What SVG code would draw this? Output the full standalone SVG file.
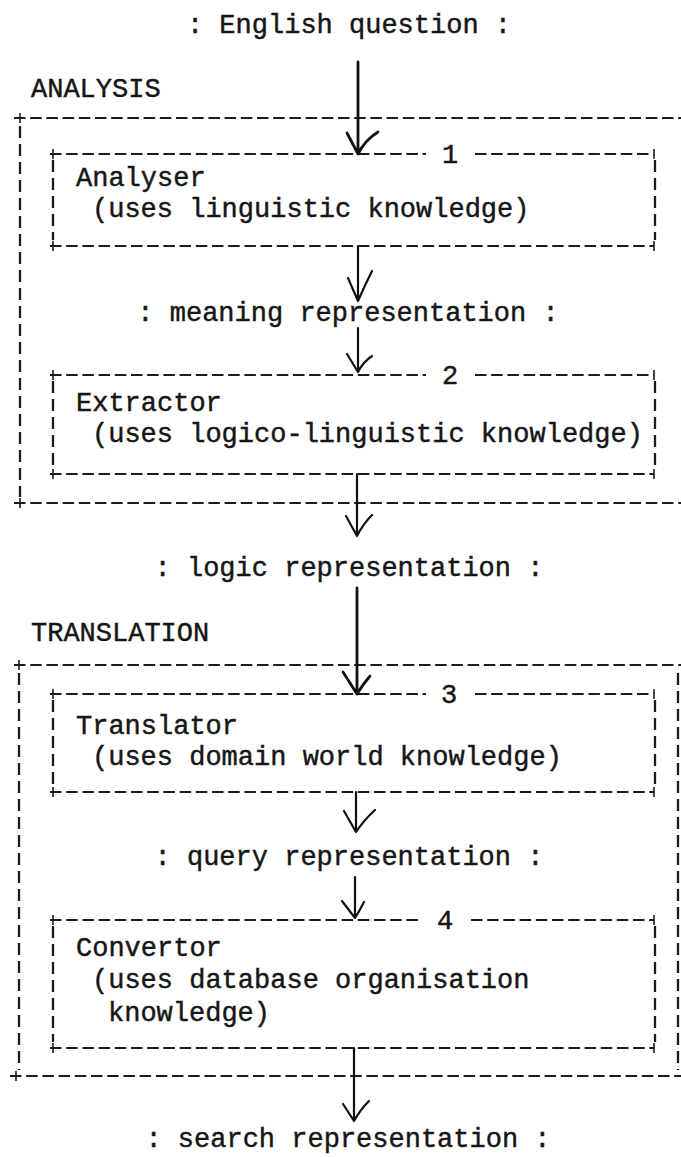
<svg xmlns="http://www.w3.org/2000/svg" width="681" height="1157" viewBox="0 0 681 1157">
  <style>
    text { font-family: "Liberation Mono", "Courier New", monospace; font-size: 27px; fill: #161616; stroke: #161616; stroke-width: 0.45; }
    .mid { text-anchor: middle; }
    .hd { stroke: #1c1c1c; stroke-width: 2.2; stroke-dasharray: 11.5 4.7; fill: none; }
    .vd { stroke: #1c1c1c; stroke-width: 2.3; stroke-dasharray: 12 6; fill: none; }
    .cross { stroke: #1c1c1c; stroke-width: 1.6; fill: none; }
    .flow { stroke: #111; stroke-width: 2.2; fill: none; stroke-linecap: round; stroke-linejoin: round; }
    .flow.long { stroke-width: 2.8; }
  </style>

  <rect width="681" height="1157" fill="#ffffff"/>

  <!-- data representations passed between stages -->
  <g id="english-question">
    <text class="mid" x="349" y="33">: English question :</text>
  </g>

  <!-- ANALYSIS stage: outer frame -->
  <g id="analysis">
    <text x="31" y="97">ANALYSIS</text>
    <path class="hd" d="M14 118 H681"/>
    <path class="hd" d="M14 503 H681"/>
    <path class="vd" d="M20 126 V497"/>
    <path class="cross" d="M20 113 v10 M20 498 v10"/>
  </g>

  <!-- stage 1 -->
  <g id="analyser">
    <path class="hd" d="M50 154 H426 M475 154 H654"/>
    <text class="mid" x="450" y="163">1</text>
    <path class="hd" d="M50 246 H654"/>
    <path class="vd" d="M53 160 V240 M655 160 V240"/>
    <path class="cross" d="M53 149 v10 M654 149 v10 M53 241 v10 M654 241 v10"/>
    <text x="76" y="186">Analyser</text>
    <text x="92" y="217">(uses linguistic knowledge)</text>
  </g>

  <g id="meaning-representation">
    <text class="mid" x="348" y="321">: meaning representation :</text>
  </g>

  <!-- stage 2 -->
  <g id="extractor">
    <path class="hd" d="M50 375 H426 M475 375 H654"/>
    <text class="mid" x="450" y="384">2</text>
    <path class="hd" d="M50 474 H654"/>
    <path class="vd" d="M53 381 V468 M655 381 V468"/>
    <path class="cross" d="M53 370 v10 M654 370 v10 M53 469 v10 M654 469 v10"/>
    <text x="76" y="411">Extractor</text>
    <text x="92" y="442">(uses logico-linguistic knowledge)</text>
  </g>

  <g id="logic-representation">
    <text class="mid" x="349" y="576">: logic representation :</text>
  </g>

  <!-- TRANSLATION stage: outer frame -->
  <g id="translation">
    <text x="31" y="641">TRANSLATION</text>
    <path class="hd" d="M14 665 H681"/>
    <path class="hd" d="M10 1076 H681"/>
    <path class="vd" d="M19 673 V1070"/>
    <path class="vd" d="M678 673 V1070"/>
    <path class="cross" d="M19 660 v10 M16 1071 v10"/>
  </g>

  <!-- stage 3 -->
  <g id="translator">
    <path class="hd" d="M50 694 H426 M475 694 H654"/>
    <text class="mid" x="449" y="703">3</text>
    <path class="hd" d="M50 792 H654"/>
    <path class="vd" d="M53 700 V786 M655 700 V786"/>
    <path class="cross" d="M53 689 v10 M654 689 v10 M53 787 v10 M654 787 v10"/>
    <text x="76" y="734">Translator</text>
    <text x="92" y="765">(uses domain world knowledge)</text>
  </g>

  <g id="query-representation">
    <text class="mid" x="349" y="865">: query representation :</text>
  </g>

  <!-- stage 4 -->
  <g id="convertor">
    <path class="hd" d="M50 920 H422 M471 920 H654"/>
    <text class="mid" x="445" y="929">4</text>
    <path class="hd" d="M50 1048 H654"/>
    <path class="vd" d="M53 926 V1042 M655 926 V1042"/>
    <path class="cross" d="M53 915 v10 M654 915 v10 M53 1043 v10 M654 1043 v10"/>
    <text x="76" y="956">Convertor</text>
    <text x="92" y="988">(uses database organisation</text>
    <text x="108" y="1021">knowledge)</text>
  </g>

  <g id="search-representation">
    <text class="mid" x="348" y="1147">: search representation :</text>
  </g>

  <!-- hand-drawn flow arrows -->
  <g id="connectors">
    <path class="flow long" d="M358 62 V154 M347 133 L358 154 Q365 140 378 132"/>
    <path class="flow" d="M358 246 V301 M348 278 L358 301 Q365 285 372 271"/>
    <path class="flow" d="M358 328 V372 M347 354 L358 372 Q363 362 372 356"/>
    <path class="flow" d="M357 474 V536 M346 516 L357 536 Q363 524 372 515"/>
    <path class="flow long" d="M357 588 V694 M343 672 L357 694 Q363 684 370 676"/>
    <path class="flow" d="M356 792 V832 M344 811 L356 832 Q364 820 375 810"/>
    <path class="flow" d="M355 877 V918 M342 901 L355 918 Q360 910 364 902"/>
    <path class="flow" d="M354 1048 V1121 M343 1104 L354 1121 Q360 1110 369 1101"/>
  </g>
</svg>
